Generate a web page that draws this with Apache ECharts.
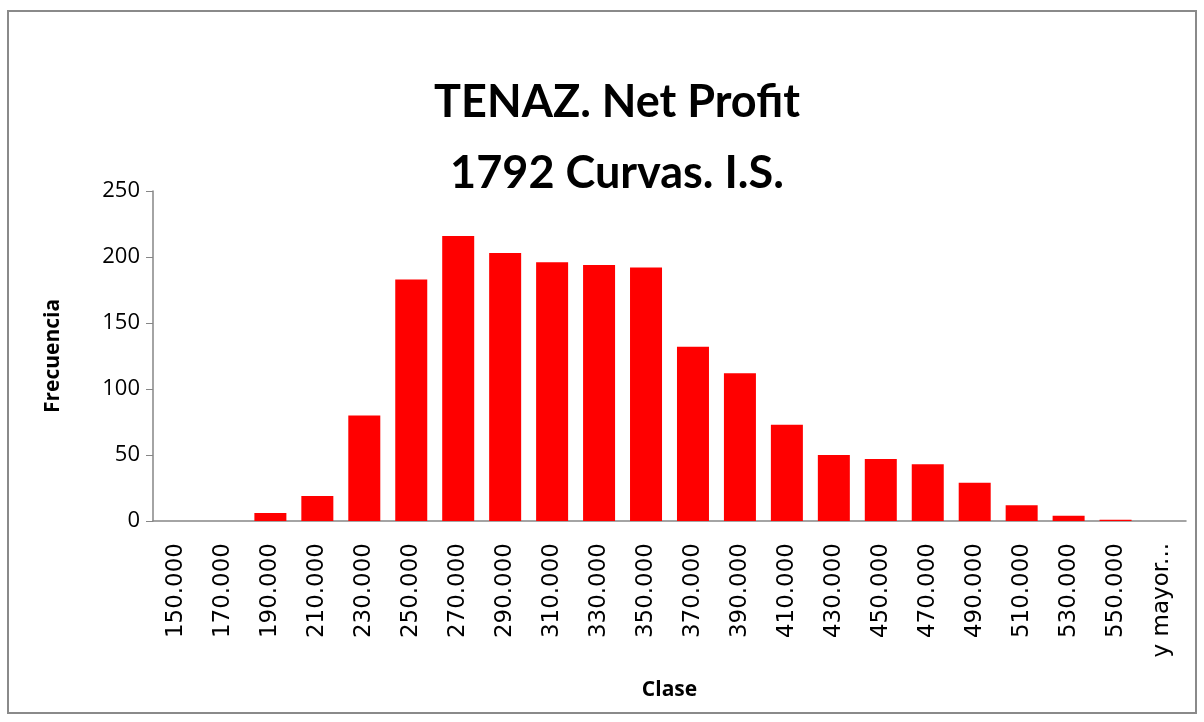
<!DOCTYPE html>
<html>
<head>
<meta charset="utf-8">
<script src="https://cdn.jsdelivr.net/npm/echarts@6/dist/echarts.min.js"></script>
<style>
  html, body { margin: 0; padding: 0; background: #fff; }
  #chart { width: 1204px; height: 722px; }
</style>
</head>
<body>
<div id="chart"></div>
<script>
// histogram bins (clase) and counts (frecuencia)
const classes = ['150.000', '170.000', '190.000', '210.000', '230.000', '250.000', '270.000',
  '290.000', '310.000', '330.000', '350.000', '370.000', '390.000', '410.000', '430.000',
  '450.000', '470.000', '490.000', '510.000', '530.000', '550.000', 'y mayor...']
const counts = [0, 0, 6, 19, 80, 183, 216, 203, 196, 194, 192, 132, 112, 73, 50, 47, 43, 29, 12, 4, 1, 0]
const yTicks = [0, 50, 100, 150, 200, 250]

const axisGrey = '#868686'
const font = 'Open Sans'

const chart = echarts.init(document.getElementById('chart'))

chart.setOption({
  backgroundColor: '#fff',
  animation: false,
  title: {
    text: 'TENAZ. Net Profit\n1792 Curvas. I.S.',
    left: 612,
    top: 62,
    textAlign: 'center',
    textStyle: {
      fontFamily: 'Lato',
      fontWeight: 'bold',
      fontSize: 45,
      lineHeight: 71,
      color: '#000'
    }
  },
  graphic: [{
    type: 'rect',
    shape: { x: 8, y: 11, width: 1188, height: 702 },
    style: { fill: null, stroke: '#8a8a8a', lineWidth: 2 }
  }],
  grid: { left: 153, right: 18, top: 191, bottom: 201 },
  xAxis: {
    type: 'category',
    data: classes,
    name: 'Clase',
    nameLocation: 'middle',
    nameGap: 159,
    nameTextStyle: { fontFamily: font, fontWeight: 'bold', fontSize: 21, color: '#000' },
    axisLine: { lineStyle: { color: axisGrey, width: 1.5 } },
    axisTick: { alignWithLabel: false, length: 7, lineStyle: { color: axisGrey } },
    axisLabel: {
      rotate: 90,
      margin: 22,
      interval: 0,
      fontFamily: 'DejaVu Sans',
      fontSize: 23,
      color: '#000'
    }
  },
  yAxis: {
    type: 'value',
    min: yTicks[0],
    max: yTicks[yTicks.length - 1],
    interval: yTicks[1] - yTicks[0],
    name: 'Frecuencia',
    nameLocation: 'middle',
    nameGap: 89,
    nameTextStyle: { fontFamily: font, fontWeight: 'bold', fontSize: 21, color: '#000' },
    splitLine: { show: false },
    axisLine: { show: true, lineStyle: { color: axisGrey, width: 1.5 } },
    axisTick: { show: true, length: 7, lineStyle: { color: axisGrey } },
    axisLabel: { margin: 13, fontFamily: font, fontSize: 22, color: '#000' }
  },
  series: [{
    type: 'bar',
    data: counts,
    barWidth: 32,
    itemStyle: { color: '#ff0000' }
  }]
})
</script>
</body>
</html>
